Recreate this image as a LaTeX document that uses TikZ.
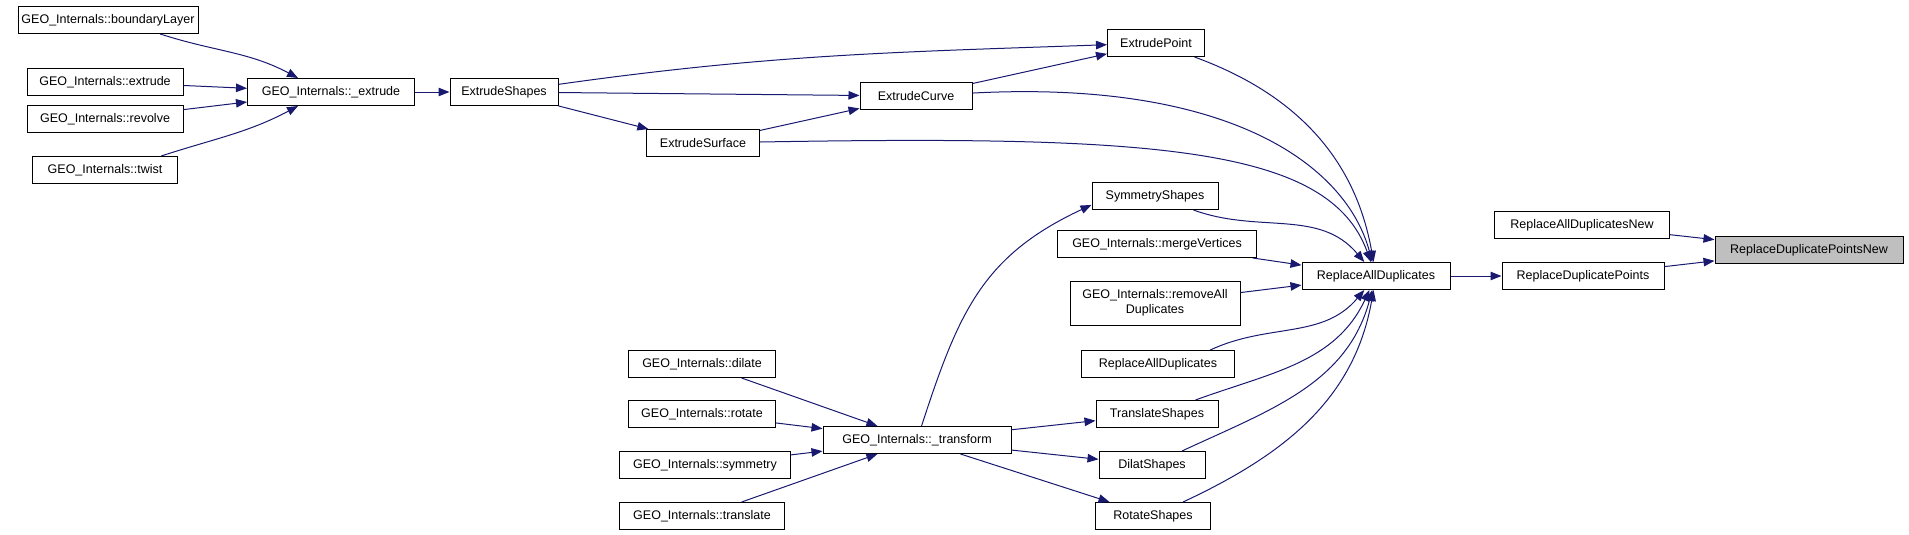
\documentclass[tikz,border=0pt]{standalone}
\usepackage{fontspec}
\setmainfont{Liberation Sans}
\usetikzlibrary{arrows.meta}
\definecolor{poziv}{HTML}{191970}
\definecolor{siva}{HTML}{BFBFBF}
\tikzset{
 fn/.style={draw=black,fill=white,line width=1pt,inner xsep=2pt,inner ysep=0pt,minimum height=27pt,align=center},
 cl/.style={draw=poziv,line width=1pt,-{Triangle[length=11pt,width=8.5pt]}}
}
\begin{document}
\begin{tikzpicture}[font=\fontsize{12.5}{15}\selectfont,x=1pt,y=1pt]
\useasboundingbox (0,0) rectangle (1909,-535);
\foreach \n/\x/\y/\w/\lab in {bl/108/20/180/GEO\_Internals::boundaryLayer,ex/105/82/156/GEO\_Internals::extrude,rv/105/119/156/GEO\_Internals::revolve,tw/105/170/145/GEO\_Internals::twist,pext/331/92/167/GEO\_Internals::\_extrude,es/504/92/108/ExtrudeShapes,ep/1156/43/97/ExtrudePoint,ec/916/96/112/ExtrudeCurve,esf/703/143/113/ExtrudeSurface,ss/1155/196/126/SymmetryShapes,mv/1157/244/199/GEO\_Internals::mergeVertices,radd/1158/364/153/ReplaceAllDuplicates,ts/1157/414/122/TranslateShapes,ds/1152/465/106/DilatShapes,rs/1153/516/115/RotateShapes,rd/1376/276/148/ReplaceAllDuplicates,rdp/1583/276/162/ReplaceDuplicatePoints,radn/1582/225/175/ReplaceAllDuplicatesNew,dil/702/364/147/GEO\_Internals::dilate,rot/702/414/147/GEO\_Internals::rotate,sym/705/465/171/GEO\_Internals::symmetry,tra/702/516/165/GEO\_Internals::translate,tf/917/440/188/GEO\_Internals::\_transform}{
 \node[fn,minimum width=\w pt] (\n) at (\x,-\y) {\lab};
}
\node[fn,minimum width=170pt,minimum height=44pt] (rad) at (1155,-303) {GEO\_Internals::removeAll\\Duplicates};
\node[fn,fill=siva,minimum width=188pt] (rdpn) at (1809,-250) {ReplaceDuplicatePointsNew};
% ravne veze
\foreach \a/\b in {ex/pext,rv/pext,pext/es,es/ec,es/esf,esf/ec,ec/ep,mv/rd,rad/rd,rd/rdp,radn/rdpn,rdp/rdpn,tf/ts,tf/ds,tf/rs,dil/tf,rot/tf,sym/tf,tra/tf}{\draw[cl] (\a) -- (\b);}
% zakrivljene veze
\foreach \a/\b/\o/\i in {bl.-15/pext.157/-18/152,tw.14/pext.-157/18/-152,es/ep/8/182,ep/rd/-20/100,ss/rd/-20/130,radd.15/rd/25/-130,ts/rd/20/-115,ds/rd/25/-105,rs/rd/25/-100}{\draw[cl] (\a) to[out=\o,in=\i] (\b);}
\draw[cl] (ec) to[out=3,in=105,out looseness=1.5,in looseness=.6] (rd);
\draw[cl] (esf) to[out=1,in=110,out looseness=1.65,in looseness=.5] (rd);
\draw[cl] (tf) to[out=72,in=205,looseness=1.1] (ss.188);
\end{tikzpicture}
\end{document}
